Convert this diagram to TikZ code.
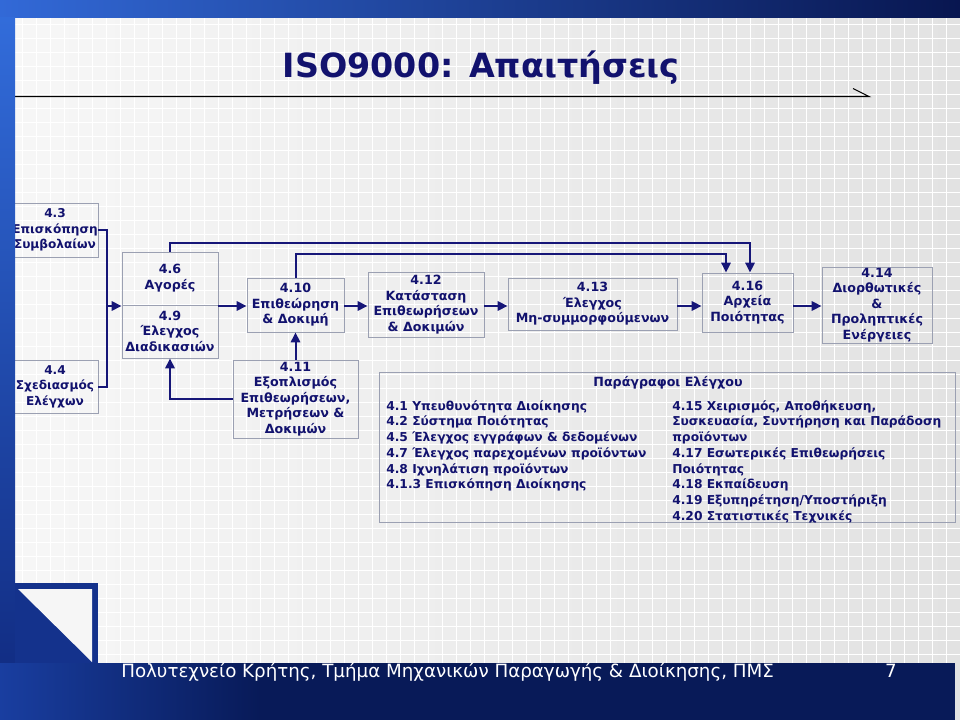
\documentclass[tikz,border=0pt]{standalone}
\usepackage{fontspec}
\setmainfont{DejaVu Sans}
\usetikzlibrary{arrows.meta,calc}
\definecolor{navytext}{RGB}{18,18,110}
\definecolor{arrowC}{RGB}{22,22,120}
\definecolor{boxC}{RGB}{155,160,178}
\definecolor{bgL}{RGB}{247,247,247}
\definecolor{bgR}{RGB}{226,226,226}
\definecolor{topL}{RGB}{50,105,215}
\definecolor{topR}{RGB}{8,22,80}
\definecolor{stripT}{RGB}{50,108,218}
\definecolor{stripB}{RGB}{15,40,125}
\definecolor{bandC}{RGB}{8,26,88}
\definecolor{bandL}{RGB}{25,62,160}
\definecolor{cornerC}{RGB}{20,50,140}
\definecolor{cornerW}{RGB}{246,246,246}
\tikzset{
  sz/.style 2 args={minimum width=#1*0.75pt, minimum height=#2*0.75pt},
  box/.style={draw=boxC, line width=0.6pt, inner sep=0pt, align=center,
    text=navytext, font=\bfseries\fontsize{9.5}{11.6}\selectfont},
  smallbox/.style={box, font=\bfseries\fontsize{9.1}{11.6}\selectfont},
  boxtext/.style={inner sep=0pt, align=center, text=navytext,
    font=\bfseries\fontsize{9.5}{11.6}\selectfont},
  listtext/.style={inner sep=0pt, align=left, text=navytext,
    font=\bfseries\fontsize{9.2}{11.8}\selectfont},
  conn/.style={draw=arrowC, line width=1.5pt},
  arr/.style={conn, -{Triangle[length=7.5pt,width=7pt]}}
}
\begin{document}
\begin{tikzpicture}[x=0.75pt,y=-0.75pt]
\useasboundingbox (0,0) rectangle (960,720);
% background
\shade[left color=bgL, right color=bgR] (0,0) rectangle (960,720);
\foreach \g in {22,36,...,960} \draw[white, line width=0.7pt] (\g,18) -- (\g,663);
\foreach \g in {24,38,...,663} \draw[white, line width=0.7pt] (15,\g) -- (960,\g);
\shade[left color=topL, right color=topR] (0,0) rectangle (960,18);
% title
\node[anchor=base, inner sep=0pt, text=navytext, font=\bfseries\fontsize{25}{30}\selectfont] (title) at (481,78) {ISO9000: Απαιτήσεις};
\draw[black, line width=0.8pt] (15,96.5) -- (869,96.5) -- (853,88.5);
% boxes
\node[smallbox, sz={86}{54}] (b43) at (55,230) {4.3\\Επισκόπηση\\Συμβολαίων};
\node[smallbox, sz={86}{53}] (b44) at (55,386.5) {4.4\\Σχεδιασμός\\Ελέγχων};
\node[box, sz={96}{106}] (b46) at (170,305) {};
\draw[draw=boxC, line width=0.6pt] (b46.west) -- (b46.east);
\node[boxtext] (t46) at (170,278) {4.6\\Αγορές};
\node[boxtext] (t49) at (170,331) {4.9\\Έλεγχος\\Διαδικασιών};
\node[box, sz={97}{54}] (b410) at (295.5,305) {4.10\\Επιθεώρηση\\\& Δοκιμή};
\node[box, sz={125}{78}] (b411) at (295.5,399) {4.11\\Εξοπλισμός\\Επιθεωρήσεων,\\Μετρήσεων \&\\Δοκιμών};
\node[box, sz={116}{65}] (b412) at (426,304.5) {4.12\\Κατάσταση\\Επιθεωρήσεων\\\& Δοκιμών};
\node[box, sz={169}{52}] (b413) at (592.5,304) {4.13\\Έλεγχος\\Μη-συμμορφούμενων};
\node[box, sz={91}{59}] (b416) at (747.5,302.5) {4.16\\Αρχεία\\Ποιότητας};
\node[box, sz={110}{76}] (b414) at (877,305) {4.14\\Διορθωτικές\\\&\\Προληπτικές\\Ενέργειες};
% control paragraphs
\node[draw=boxC, line width=0.6pt, sz={576}{150}] (pbox) at (667,447) {};
\node[boxtext] (ph) at (668,383) {Παράγραφοι Ελέγχου};
\node[listtext, anchor=north west] (pl) at (386,400) {4.1 Υπευθυνότητα Διοίκησης\\4.2 Σύστημα Ποιότητας\\4.5 Έλεγχος εγγράφων \& δεδομένων\\4.7 Έλεγχος παρεχομένων προϊόντων\\4.8 Ιχνηλάτιση προϊόντων\\4.1.3 Επισκόπηση Διοίκησης};
\node[listtext, anchor=north west] (pr) at (672,400) {4.15 Χειρισμός, Αποθήκευση,\\Συσκευασία, Συντήρηση και Παράδοση\\προϊόντων\\4.17 Εσωτερικές Επιθεωρήσεις\\Ποιότητας\\4.18 Εκπαίδευση\\4.19 Εξυπηρέτηση/Υποστήριξη\\4.20 Στατιστικές Τεχνικές};
% connectors
\coordinate (jn) at (107,306);
\coordinate (row) at (0,306);
\draw[conn] (b43.east) -| (jn);
\draw[conn] (b44.east) -| (jn);
\draw[arr] (jn) -- (jn -| b46.west);
\draw[arr] (b46.east |- row) -- (b410.west |- row);
\draw[arr] (b410.east |- row) -- (b412.west |- row);
\draw[arr] (b412.east |- row) -- (b413.west |- row);
\draw[arr] (b413.east |- row) -- (b416.west |- row);
\draw[arr] (b416.east |- row) -- (b414.west |- row);
\draw[arr] (b411.north) -- (b410.south);
\draw[arr] (b411.west) -| (b46.south);
\coordinate (in1) at ($(b416.north)+(2.5,0)$);
\coordinate (in2) at ($(b416.north)+(-21.5,0)$);
\draw[arr] (b46.north) -- ++(0,-9) -| (in1);
\draw[arr] (b410.north) -- ++(0,-24) -| (in2);
% frame decorations drawn over the content
\shade[top color=stripT, bottom color=stripB] (0,18) rectangle (15,720);
\fill[bandC] (0,663) rectangle (955,720);
\shade[left color=bandL, right color=bandC] (0,663) rectangle (260,720);
\fill[cornerC] (15,583) rectangle (98,663);
\fill[cornerW] (18,589) -- (92,589) -- (92,662) -- cycle;
% footer
\node[anchor=base west, inner sep=0pt, text=white, font=\fontsize{13.7}{16}\selectfont] (foot) at (121,677) {Πολυτεχνείο Κρήτης, Τμήμα Μηχανικών Παραγωγής \& Διοίκησης, ΠΜΣ};
\node[anchor=base, inner sep=0pt, text=white, font=\fontsize{13.7}{16}\selectfont] (pg) at (891,677) {7};
\end{tikzpicture}
\end{document}
